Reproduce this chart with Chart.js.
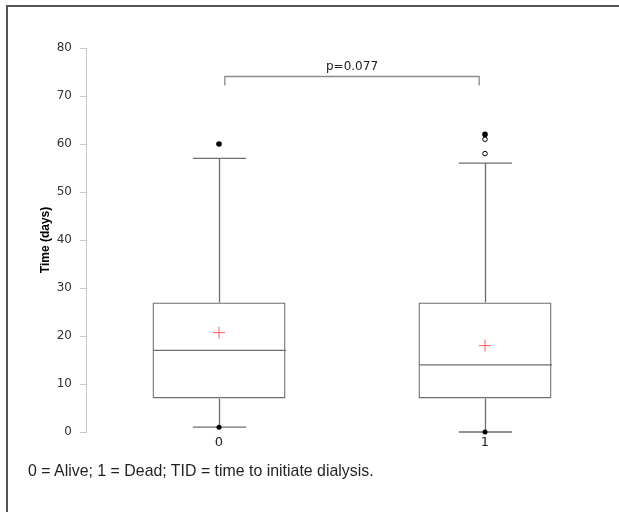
<!DOCTYPE html>
<html>
<head>
<meta charset="utf-8">
<script src="https://cdn.jsdelivr.net/npm/chart.js@4/dist/chart.umd.min.js"></script>
<style>
    html, body { margin: 0; padding: 0; background: #fff; overflow: hidden; }
    #wrap { position: relative; width: 619px; height: 512px; }
    #frame {
        position: absolute; left: 6px; top: 5px; width: 700px; height: 600px;
        border-left: 2px solid #555; border-top: 2px solid #555;
    }
    #caption {
        position: absolute; left: 28px; top: 461px; white-space: nowrap;
        font-family: 'Liberation Sans Narrow', 'Liberation Sans', sans-serif;
        font-size: 17px; color: #231f20;
        transform: scaleX(0.935); transform-origin: left center;
    }
    canvas { position: absolute; left: 0; top: 0; }
</style>
</head>
<body>
<div id="wrap">
    <div id="frame"></div>
    <canvas id="boxChart" width="619" height="512"></canvas>
    <div id="caption">0 = Alive; 1 = Dead; TID = time to initiate dialysis.</div>
</div>
<script>
// Data
const groups = ['0', '1'];
const q1 = [7, 7];
const median = [17, 14];
const q3 = [27, 27];
const whiskerLow = [1, 0];
const whiskerHigh = [57, 56];
const means = [20.7, 18];
const minima = [1, 0];
const maxima = [60, 62];
const outlierGroups = ['1', '1'];
const outlierValues = [61, 58];
const pLabel = 'p=0.077';
const bracketTop = 74.2;
const bracketFoot = 72.2;
const yMin = 0, yMax = 80, yStep = 10;

const boxLine = '#6e6e6e';

// whiskers, medians, caps and significance bracket drawn through the chart scales
const boxExtras = {
    id: 'boxExtras',
    beforeDatasetsDraw(chart) {
        const ctx = chart.ctx;
        const x = chart.scales.x, y = chart.scales.y;
        const catW = x.width / groups.length;
        ctx.save();
        ctx.strokeStyle = boxLine;
        ctx.lineWidth = 1.3;
        groups.forEach((g, i) => {
            const cx = Math.round(x.getPixelForValue(i)) + 0.5;
            const half = catW * 0.1;
            const boxHalf = catW * 0.25;
            ctx.beginPath();
            ctx.moveTo(cx, y.getPixelForValue(q3[i]));
            ctx.lineTo(cx, y.getPixelForValue(whiskerHigh[i]));
            ctx.moveTo(cx, y.getPixelForValue(q1[i]));
            ctx.lineTo(cx, y.getPixelForValue(whiskerLow[i]));
            ctx.moveTo(cx - half, y.getPixelForValue(whiskerHigh[i]));
            ctx.lineTo(cx + half, y.getPixelForValue(whiskerHigh[i]));
            ctx.moveTo(cx - half, y.getPixelForValue(whiskerLow[i]));
            ctx.lineTo(cx + half, y.getPixelForValue(whiskerLow[i]));
            ctx.moveTo(cx - boxHalf, y.getPixelForValue(median[i]));
            ctx.lineTo(cx + boxHalf, y.getPixelForValue(median[i]));
            ctx.stroke();
        });
        // bracket
        const inset = catW * 0.022;
        const xa = x.getPixelForValue(0) + inset;
        const xb = x.getPixelForValue(1) - inset;
        const yt = Math.round(y.getPixelForValue(bracketTop)) + 0.5;
        const yf = y.getPixelForValue(bracketFoot);
        ctx.strokeStyle = '#8a8a8a';
        ctx.lineWidth = 1.3;
        ctx.beginPath();
        ctx.moveTo(xa, yf);
        ctx.lineTo(xa, yt);
        ctx.lineTo(xb, yt);
        ctx.lineTo(xb, yf);
        ctx.stroke();
        ctx.fillStyle = '#222';
        ctx.font = '12px "DejaVu Sans", sans-serif';
        ctx.textAlign = 'center';
        ctx.textBaseline = 'bottom';
        ctx.fillText(pLabel, (xa + xb) / 2, yt - 4);
        ctx.restore();
    }
};

const ctx = document.getElementById('boxChart').getContext('2d');
const chart = new Chart(ctx, {
    type: 'bar',
    data: {
        labels: groups,
        datasets: [
            {
                label: 'box',
                data: groups.map((g, i) => [q1[i], q3[i]]),
                backgroundColor: 'rgba(255,255,255,0)',
                borderColor: boxLine,
                borderWidth: 1.3,
                borderSkipped: false,
                barPercentage: 0.5,
                categoryPercentage: 1.0
            },
            {
                type: 'line',
                label: 'mean',
                data: groups.map((g, i) => ({ x: g, y: means[i] })),
                showLine: false,
                pointStyle: 'cross',
                pointRadius: 6,
                borderColor: '#ff5a5a',
                borderWidth: 1,
                backgroundColor: '#ff5a5a'
            },
            {
                type: 'line',
                label: 'minimum',
                data: groups.map((g, i) => ({ x: g, y: minima[i] })),
                showLine: false,
                pointRadius: 2.5,
                borderWidth: 0,
                backgroundColor: '#000'
            },
            {
                type: 'line',
                label: 'maximum',
                data: groups.map((g, i) => ({ x: g, y: maxima[i] })),
                showLine: false,
                pointRadius: 2.8,
                borderWidth: 0,
                backgroundColor: '#000'
            },
            {
                type: 'line',
                label: 'outliers',
                data: outlierGroups.map((g, i) => ({ x: g, y: outlierValues[i] })),
                showLine: false,
                pointRadius: 2.3,
                borderWidth: 1,
                borderColor: '#000',
                backgroundColor: '#fff'
            }
        ]
    },
    options: {
        responsive: false,
        animation: false,
        clip: false,
        layout: {
            autoPadding: false,
            padding: { left: 38, top: 48, right: 1, bottom: 0 }
        },
        plugins: {
            legend: { display: false },
            tooltip: { enabled: false }
        },
        scales: {
            x: {
                grid: { display: false, drawTicks: false },
                border: { display: false },
                ticks: {
                    color: '#222',
                    padding: 3,
                    font: { family: 'DejaVu Sans', size: 13 }
                },
                afterFit(scale) { scale.height = 80; }
            },
            y: {
                min: yMin,
                max: yMax,
                ticks: {
                    stepSize: yStep,
                    color: '#333',
                    padding: 8,
                    font: { family: 'DejaVu Sans', size: 12 }
                },
                grid: {
                    drawOnChartArea: false,
                    tickLength: 6,
                    color: '#c8c8c8'
                },
                border: { color: '#c8c8c8', width: 1 },
                title: {
                    display: true,
                    text: 'Time (days)',
                    color: '#000',
                    padding: { top: 0, bottom: 0 },
                    font: { family: 'Liberation Sans', size: 12, weight: 'bold' }
                },
                afterFit(scale) { scale.width = 48; }
            }
        }
    },
    plugins: [boxExtras]
});
</script>
</body>
</html>
